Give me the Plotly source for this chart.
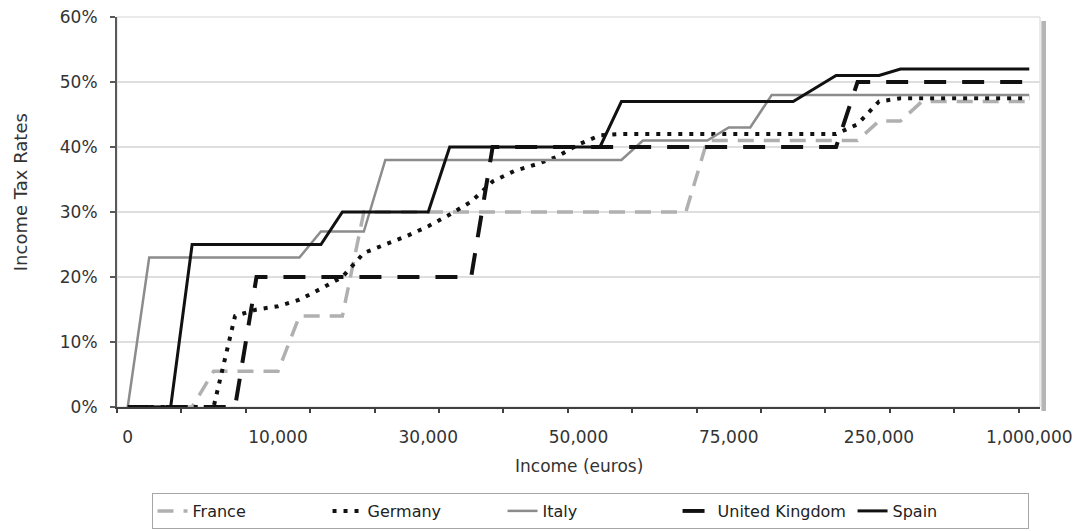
import plotly.graph_objects as go

# Income categories (43 points on a category axis; only every 7th is labelled)
category_index = list(range(43))
tick_positions = [0, 7, 14, 21, 28, 35, 42]
tick_labels = ["0", "10,000", "30,000", "50,000", "75,000", "250,000", "1,000,000"]

# Income tax rates (%)
france = [0, 0, 0, 0, 5.5, 5.5, 5.5, 5.5, 14, 14, 14, 30, 30, 30, 30, 30, 30, 30, 30, 30,
          30, 30, 30, 30, 30, 30, 30, 41, 41, 41, 41, 41, 41, 41, 41, 44, 44, 47, 47, 47,
          47, 47, 47]
germany = [0, 0, 0, 0, 0, 14, 15, 15.5, 16.5, 18.2, 20, 23.7, 25, 26.3, 27.8, 29.6, 31.6,
           34.7, 36.3, 37.3, 38.5, 40.4, 41.8, 42, 42, 42, 42, 42, 42, 42, 42, 42, 42, 42,
           43.5, 47, 47.5, 47.5, 47.5, 47.5, 47.5, 47.5, 47.5]
italy = [0, 23, 23, 23, 23, 23, 23, 23, 23, 27, 27, 27, 38, 38, 38, 38, 38, 38, 38, 38,
         38, 38, 38, 38, 41, 41, 41, 41, 43, 43, 48, 48, 48, 48, 48, 48, 48, 48, 48, 48,
         48, 48, 48]
united_kingdom = [0, 0, 0, 0, 0, 0, 20, 20, 20, 20, 20, 20, 20, 20, 20, 20, 20, 40, 40, 40,
                  40, 40, 40, 40, 40, 40, 40, 40, 40, 40, 40, 40, 40, 40, 50, 50, 50, 50, 50,
                  50, 50, 50, 50]
spain = [0, 0, 0, 25, 25, 25, 25, 25, 25, 25, 30, 30, 30, 30, 30, 40, 40, 40, 40, 40,
         40, 40, 40, 47, 47, 47, 47, 47, 47, 47, 47, 47, 49, 51, 51, 51, 52, 52, 52, 52,
         52, 52, 52]

series = [
    ("France", france, dict(color="#b0b0b0", width=3.5, dash="16px,10px")),
    ("Germany", germany, dict(color="#111111", width=4, dash="4px,7px")),
    ("Italy", italy, dict(color="#8c8c8c", width=2.5)),
    ("United Kingdom", united_kingdom, dict(color="#111111", width=4, dash="22px,16px")),
    ("Spain", spain, dict(color="#111111", width=3)),
]

FONT = "DejaVu Sans"
fig = go.Figure()
for name, vals, line in series:
    fig.add_trace(go.Scatter(x=category_index, y=vals, mode="lines", name=name, line=line))

# The page body keeps its default 8px margin, so the figure is 8px smaller than the window.
fig.update_layout(
    width=1073, height=523,
    margin=dict(l=109, r=41, t=9, b=124, autoexpand=False),
    paper_bgcolor="white", plot_bgcolor="white",
    font=dict(family=FONT, size=16, color="#333333"),
    showlegend=True,
    legend=dict(orientation="h", x=0.5125, xanchor="center", y=-0.2205, yanchor="top",
                bordercolor="#a6a6a6", borderwidth=1, bgcolor="white",
                font=dict(family=FONT, size=16, color="#222222"),
                entrywidth=130, entrywidthmode="pixels", traceorder="normal"),
    xaxis=dict(range=[-0.5, 42.5], tickmode="array", tickvals=tick_positions,
               ticktext=tick_labels, ticks="", ticklabelstandoff=14,
               ticklabeloverflow="allow", automargin=False,
               showgrid=False, zeroline=False, showline=True, linecolor="#404040",
               linewidth=2, tickfont=dict(size=17, color="#333333"),
               minor=dict(tickmode="linear", tick0=-0.5, dtick=3, ticks="outside",
                          ticklen=4, tickwidth=2, tickcolor="#404040", showgrid=False)),
    yaxis=dict(range=[0, 60], dtick=10, ticksuffix="%", ticks="outside", ticklen=5,
               tickwidth=1.5, tickcolor="#595959", ticklabelstandoff=9,
               ticklabeloverflow="allow", automargin=False,
               showgrid=True, gridcolor="#dedede", gridwidth=2, zeroline=False,
               showline=True, linecolor="#595959", linewidth=2,
               tickfont=dict(size=17, color="#333333")),
    annotations=[
        dict(text="Income Tax Rates", xref="paper", yref="paper", x=-0.105, y=0.551,
             xanchor="center", yanchor="middle", textangle=-90, showarrow=False,
             font=dict(family=FONT, size=18, color="#333333")),
        dict(text="Income (euros)", xref="paper", yref="paper", x=0.5, y=-0.151,
             xanchor="center", yanchor="middle", showarrow=False,
             font=dict(family=FONT, size=17, color="#333333")),
    ],
    shapes=[
        dict(type="rect", xref="paper", yref="paper", x0=1.0015, x1=1.0065,
             y0=-0.01, y1=0.99, fillcolor="#b5b5b5", line=dict(width=0), layer="below"),
        dict(type="rect", xref="paper", yref="paper", x0=0, x1=1, y0=0, y1=1,
             line=dict(color="#d5d5d5", width=1), layer="below"),
    ],
)

fig.write_html("out.html")
